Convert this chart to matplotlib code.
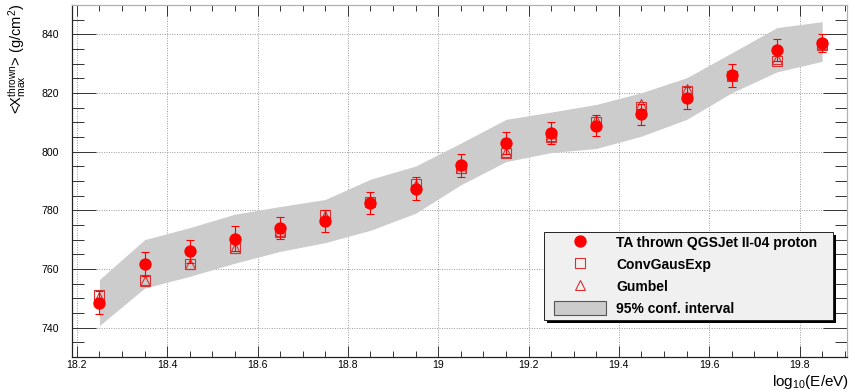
import matplotlib
matplotlib.use('Agg')
import matplotlib.pyplot as plt
from matplotlib.patches import Patch, Rectangle
from matplotlib.lines import Line2D
from matplotlib.ticker import MultipleLocator, FixedLocator
import numpy as np

plt.rcParams['font.family'] = ['Liberation Sans', 'DejaVu Sans']
plt.rcParams['mathtext.fontset'] = 'custom'
plt.rcParams['mathtext.rm'] = 'Liberation Sans'
plt.rcParams['mathtext.it'] = 'Liberation Sans:italic'
plt.rcParams['mathtext.bf'] = 'Liberation Sans:bold'

# log10(E/eV) bin centres
log_e = [18.25, 18.35, 18.45, 18.55, 18.65, 18.75, 18.85, 18.95, 19.05,
         19.15, 19.25, 19.35, 19.45, 19.55, 19.65, 19.75, 19.85]

# TA thrown QGSJet II-04 proton
thrown = [748.5, 761.7, 766.0, 770.3, 773.9, 776.4, 782.6, 787.4, 795.3,
          803.0, 806.3, 808.9, 812.7, 818.2, 826.0, 834.7, 837.1]
thrown_err = [3.9, 4.2, 4.0, 4.2, 3.8, 3.7, 3.8, 3.9, 3.8,
              3.8, 3.8, 3.7, 3.7, 3.8, 4.0, 3.8, 3.1]

# fits
conv_gaus_exp = [751.2, 756.2, 761.8, 767.2, 772.9, 778.5, 783.0, 789.0, 794.4,
                 799.7, 804.9, 810.2, 815.3, 820.7, 825.9, 831.0, 836.3]
gumbel = [750.6, 756.0, 761.6, 767.0, 772.5, 778.2, 783.3, 788.6, 794.6,
          799.8, 805.4, 810.9, 816.2, 821.4, 826.3, 831.5, 836.6]

# 95% confidence band
band_hi = [756.4, 770.0, 774.1, 778.7, 781.3, 783.7, 790.6, 795.1, 802.9,
           811.0, 813.5, 816.1, 820.1, 825.2, 833.7, 842.3, 844.3]
band_lo = [740.7, 753.5, 757.5, 762.0, 766.0, 769.0, 773.2, 779.0, 788.7,
           796.6, 799.7, 801.1, 805.3, 811.0, 820.1, 827.2, 830.8]

x_ticks = [18.2, 18.4, 18.6, 18.8, 19.0, 19.2, 19.4, 19.6, 19.8]
x_tick_labels = ['18.2', '18.4', '18.6', '18.8', '19', '19.2', '19.4', '19.6', '19.8']
y_ticks = [740, 760, 780, 800, 820, 840]

W, H = 852, 391
fig = plt.figure(figsize=(W / 100, H / 100), dpi=100)
ax = fig.add_axes([72.3 / W, 34 / H, (847 - 72.3) / W, 352 / H])

band_col = '#cccccc'
fit_red = '#d83030'

ax.fill_between(log_e, band_lo, band_hi, color=band_col, lw=0, zorder=1)
ax.plot(log_e, conv_gaus_exp, ls='none', marker='s', ms=7.6, mfc='none',
        mec=fit_red, mew=0.8, zorder=3)
ax.plot(log_e, gumbel, ls='none', marker='^', ms=7.4, mfc='none',
        mec=fit_red, mew=0.8, zorder=3)
ax.errorbar(log_e, thrown, yerr=thrown_err, fmt='o', ms=7.9, color='red',
            ecolor='red', elinewidth=0.8, capsize=2.8, capthick=0.8, zorder=4)

ax.set_xlim(18.19, 19.905)
ax.set_ylim(730, 850)

ax.xaxis.set_major_locator(FixedLocator(x_ticks))
ax.set_xticks(x_ticks)
ax.set_xticklabels(x_tick_labels)
ax.xaxis.set_minor_locator(MultipleLocator(0.05))
ax.set_yticks(y_ticks)
ax.yaxis.set_minor_locator(MultipleLocator(5))

ax.tick_params(axis='both', which='both', direction='in', top=True, right=True,
               labelsize=7.6, width=0.7, color='#333333')
ax.tick_params(axis='x', which='major', length=8, pad=2.5)
ax.tick_params(axis='x', which='minor', length=4)
ax.tick_params(axis='y', which='major', length=17, pad=9.5)
ax.tick_params(axis='y', which='minor', length=8.5)

ax.set_axisbelow(True)
ax.grid(True, which='major', ls=(0, (1, 1.5)), color='#999999', lw=0.7)

for side in ['left', 'bottom']:
    ax.spines[side].set_color('#222222')
    ax.spines[side].set_linewidth(0.9)
for side in ['top', 'right']:
    ax.spines[side].set_color('#b0b0b0')
    ax.spines[side].set_linewidth(0.9)

fig.text(17 / W, 1 - 4 / H, r'<X$_{\rm max}^{\rm thrown}$> (g/cm$^{2}$)',
         rotation=90, ha='center', va='top', fontsize=10.5)
fig.text(849 / W, 1 - 386 / H, r'log$_{10}$(E/eV)', ha='right',
         va='baseline', fontsize=11)

# legend frame with shadow
lx0, lx1, ly0, ly1 = 544, 833, 232, 320
ax.add_patch(Rectangle(((lx0 + 3) / W, 1 - (ly1 + 3) / H), (lx1 - lx0) / W,
                       (ly1 - ly0) / H, transform=fig.transFigure,
                       facecolor='black', edgecolor='none', zorder=5))
ax.add_patch(Rectangle((lx0 / W, 1 - ly1 / H), (lx1 - lx0) / W,
                       (ly1 - ly0) / H, transform=fig.transFigure,
                       facecolor='#f0f0f0', edgecolor='#222222', lw=0.7,
                       zorder=6))

handles = [
    Line2D([], [], ls='none', marker='o', ms=7.9, color='red'),
    Line2D([], [], ls='none', marker='s', ms=7.6, mfc='none', mec=fit_red, mew=0.8),
    Line2D([], [], ls='none', marker='^', ms=7.4, mfc='none', mec=fit_red, mew=0.8),
    Patch(facecolor=band_col, edgecolor='#555555', lw=0.8),
]
labels = ['TA thrown QGSJet II-04 proton', 'ConvGausExp', 'Gumbel',
          '95% conf. interval']
leg = ax.legend(handles, labels, loc='upper left',
                bbox_to_anchor=((lx0 + 10) / W, 1 - (ly0 + 3.5) / H),
                bbox_transform=fig.transFigure, frameon=False,
                prop={'weight': 'bold', 'size': 10}, handlelength=3.75,
                handleheight=1.1, handletextpad=0.72, labelspacing=0.54,
                borderpad=0, borderaxespad=0)
leg.set_zorder(7)

fig.savefig('out.png', dpi=100)
